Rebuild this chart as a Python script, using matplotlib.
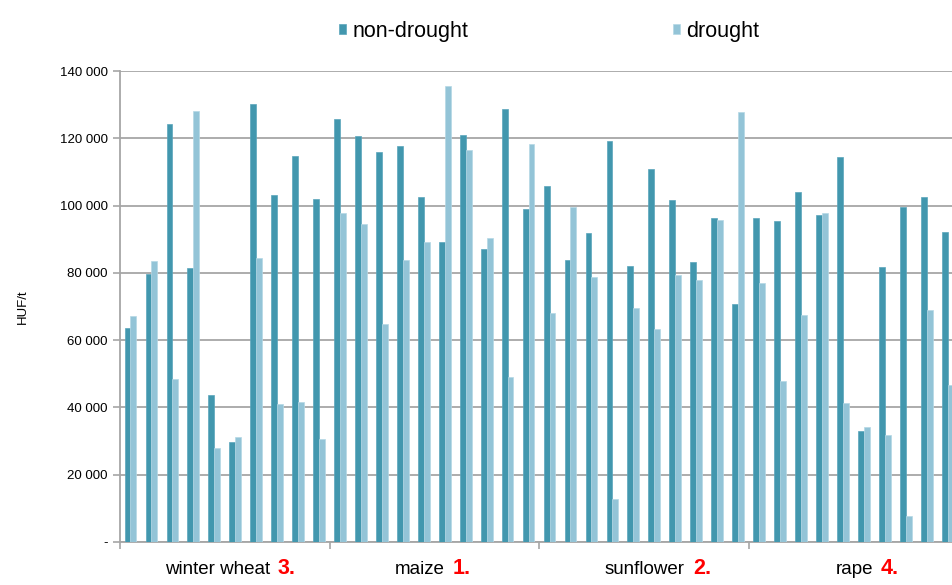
import numpy as np
import matplotlib
matplotlib.use("Agg")
import matplotlib.pyplot as plt
from matplotlib.ticker import FixedLocator, FuncFormatter

# crops, 10 sites each, price in HUF/t
crops = ["winter wheat", "maize", "sunflower", "rape"]
ranks = ["3.", "1.", "2.", "4."]

non_drought = [
    63500, 79700, 124300, 81500, 43600, 29600, 130300, 103200, 114800, 102000,   # winter wheat
    125800, 120800, 116000, 117800, 102400, 89300, 121100, 87200, 128800, 99100,  # maize
    105900, 83700, 91700, 119300, 82100, 110800, 101700, 83100, 96400, 70600,     # sunflower
    96400, 95500, 104100, 97100, 114500, 32900, 81800, 99700, 102600, 92200,      # rape
]
drought = [
    67300, 83600, 48400, 128100, 27800, 31100, 84500, 40900, 41500, 30500,
    97900, 94400, 64700, 83700, 89300, 135600, 116600, 90400, 48900, 118400,
    68200, 99700, 78900, 12700, 69700, 63200, 79500, 77800, 95800, 127800,
    77100, 48000, 67400, 97900, 41200, 34100, 31700, 7700, 69100, 46600,
]

dark = "#4297AE"
light = "#93C4D7"
grey = "#A6A6A6"

plt.rcParams["font.family"] = ["Liberation Sans", "DejaVu Sans"]

fig = plt.figure(figsize=(9.52, 5.85), dpi=100)
ax = fig.add_axes([120 / 952, 1 - 542 / 585, 1 - 120 / 952, (542 - 71) / 585])

x = np.arange(len(non_drought))
w = 0.28
b1 = ax.bar(x - w / 2, non_drought, w, color=dark, edgecolor="#5AA6BB", linewidth=0.5, zorder=3)
b2 = ax.bar(x + w / 2, drought, w, color=light, edgecolor="#B5D8E5", linewidth=0.5, zorder=3)

ax.set_ylim(0, 140000)
ax.set_xlim(-0.5, 39.21)
ax.yaxis.set_major_locator(FixedLocator(np.arange(0, 140001, 20000)))
ax.yaxis.set_major_formatter(FuncFormatter(
    lambda v, p: "-" if v == 0 else f"{int(v):,}".replace(",", " ")))
ax.set_xticks([-0.5, 9.5, 19.5, 29.5])
ax.set_xticklabels([])
ax.grid(axis="y", color=grey, linewidth=1.3, zorder=0)
for s in ["top", "right"]:
    ax.spines[s].set_visible(False)
for s in ["left", "bottom"]:
    ax.spines[s].set_color(grey)
    ax.spines[s].set_linewidth(1.3)
ax.tick_params(axis="both", colors=grey, labelcolor="black", width=1.2, length=5)
ax.tick_params(axis="y", labelsize=9.5, pad=4)
ax.set_ylabel("HUF/t", fontsize=9.5, labelpad=22)

# group labels with rank numbers
name_right = [270, 445, 685, 873]
for i, c in enumerate(crops):
    fig.text(name_right[i] / 952, 1 - 570 / 585, c, ha="right", va="center", fontsize=13.5)
    fig.text((name_right[i] + 8) / 952, 1 - 568 / 585, ranks[i], ha="left", va="center",
             fontsize=15.5, fontweight="bold", color="#FF0000")

fig.legend([b1, b2], ["non-drought", "drought"], loc="center", ncol=2,
           bbox_to_anchor=(549 / 952, 1 - 31 / 585), frameon=False, fontsize=15.5,
           handlelength=0.33, handleheight=0.33, handletextpad=0.3, columnspacing=9.5)

fig.savefig("out.png", dpi=100)
